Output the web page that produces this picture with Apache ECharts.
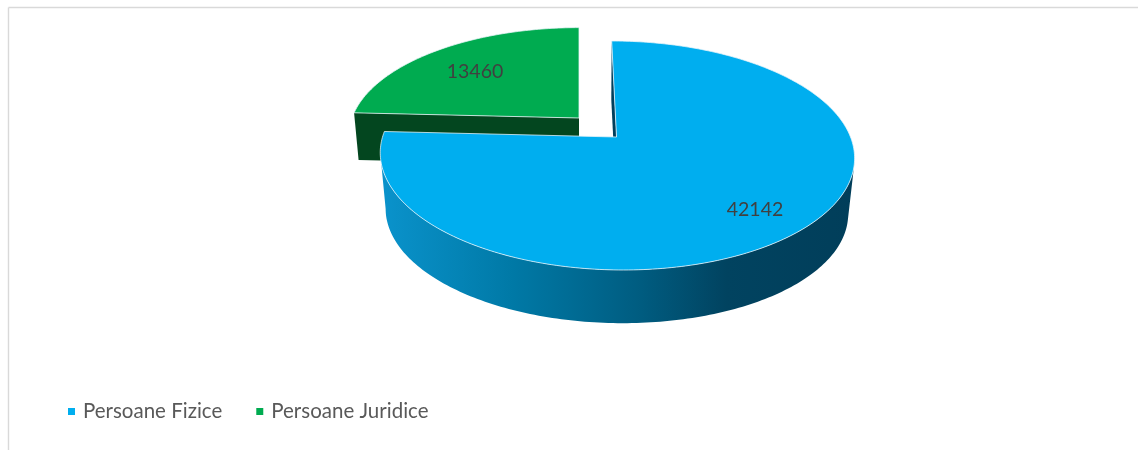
<!DOCTYPE html>
<html><head><meta charset="utf-8">
<style>html,body{margin:0;padding:0;background:#fff}#c{width:1138px;height:450px}</style>
<script src="https://cdn.jsdelivr.net/npm/echarts@6/dist/echarts.min.js"></script>
</head><body><div id="c"></div>
<script>
const categories = ['Persoane Fizice', 'Persoane Juridice'];
const values = [42142, 13460];
const topColors = ['#00AEEF', '#00AB50'];
const FONT = 'Lato, "Open Sans", sans-serif';
const total = values.reduce((a, b) => a + b, 0);
const DEG = Math.PI / 180;
const K = 0.1616;                    // perspective of the tilted disc

// projection of a disc point (angle clockwise from 12 o'clock) to the screen
function proj(g, theta, scale, ox, oy) {
  const u = Math.sin(theta * DEG), v = Math.cos(theta * DEG), w = 1 + K * v;
  return [g.x + (ox || 0) + scale * (g.a * u + g.s * v) / w,
          g.y + (oy || 0) - scale * g.b * v / w];
}
function arc(g, from, to, scale, ox, oy) {
  const pts = [], n = Math.ceil(Math.abs(to - from));
  for (let i = 0; i <= n; i++) pts.push(proj(g, from + (to - from) * i / n, scale, ox, oy));
  return pts;
}
const blueGeo  = {x: 616.5, y: 137, a: 234, b: 111.5, s: -5.6, depth: 56.5, base: 0.975};
const greenGeo = {x: 579, y: 118, a: 227, b: 105, s: 0, depth: 47, base: 0.98};
const edgeLine = {stroke: 'rgba(235,245,250,0.85)', lineWidth: 0.9};

function renderBlue(params, api) {
  const g = blueGeo, end = 360 * api.value(0) / total;
  const lowX = -0.5;
  const top = [[g.x, g.y]].concat(arc(g, 0, end, 1));
  const wall = arc(g, 103, 262, 1).concat(arc(g, 262, 103, g.base, lowX, g.depth));
  const cut = [[g.x, g.y], proj(g, 0, 1), proj(g, 0, g.base, lowX, g.depth), [g.x + lowX, g.y + g.depth]];
  return {type: 'group', children: [
    {type: 'polygon', shape: {points: cut}, style: {fill: '#013F5C'}},
    {type: 'polygon', shape: {points: wall}, style: {fill: {
      type: 'linear', x: 1, y: 0, x2: 0, y2: 0,
      colorStops: [
        {offset: 0, color: '#013E5A'}, {offset: 0.27, color: '#014360'},
        {offset: 0.45, color: '#005C80'}, {offset: 0.72, color: '#0079A6'},
        {offset: 1, color: '#0A93CC'}]
    }}},
    {type: 'polygon', shape: {points: top}, style: Object.assign({fill: api.visual('color')}, edgeLine)},
    {type: 'text', style: {text: String(api.value(0)), x: 755, y: 209.5, align: 'center', verticalAlign: 'middle',
      fill: '#404040', font: '19.5px ' + FONT}}
  ]};
}
function renderGreen(params, api) {
  const g = greenGeo, start = 360 - 360 * api.value(0) / total;
  const top = [[g.x, g.y]].concat(arc(g, start, 360, 1));
  const wall = [proj(g, start, 1), [g.x, g.y], [g.x, g.y + g.depth], proj(g, start, g.base, 0, g.depth)];
  return {type: 'group', children: [
    {type: 'polygon', shape: {points: wall}, style: {fill: '#03461F'}},
    {type: 'polygon', shape: {points: top}, style: Object.assign({fill: api.visual('color')}, edgeLine)},
    {type: 'text', style: {text: String(api.value(0)), x: 475, y: 72, align: 'center', verticalAlign: 'middle',
      fill: '#404040', font: '19.5px ' + FONT}}
  ]};
}

const chart = echarts.init(document.getElementById('c'), null, {renderer: 'canvas'});
chart.setOption({
  animation: false,
  backgroundColor: '#fff',
  legend: {
    data: categories, left: 63, top: 396, icon: 'rect', itemWidth: 7, itemHeight: 7, itemGap: 34,
    textStyle: {color: '#595959', fontFamily: FONT, fontSize: 20.5, padding: [0, 0, 0, 3]},
    selectedMode: false
  },
  graphic: [
    {type: 'line', shape: {x1: 8.5, y1: 7.5, x2: 1138, y2: 7.5}, style: {stroke: '#D9D9D9', lineWidth: 1.4}},
    {type: 'line', shape: {x1: 8.5, y1: 7.5, x2: 8.5, y2: 450}, style: {stroke: '#D9D9D9', lineWidth: 1.4}}
  ],
  series: [
    {type: 'custom', name: categories[0], coordinateSystem: 'none', z: 3, silent: true,
     itemStyle: {color: topColors[0]}, data: [[values[0]]], renderItem: renderBlue},
    {type: 'custom', name: categories[1], coordinateSystem: 'none', z: 2, silent: true,
     itemStyle: {color: topColors[1]}, data: [[values[1]]], renderItem: renderGreen}
  ]
});
</script></body></html>
